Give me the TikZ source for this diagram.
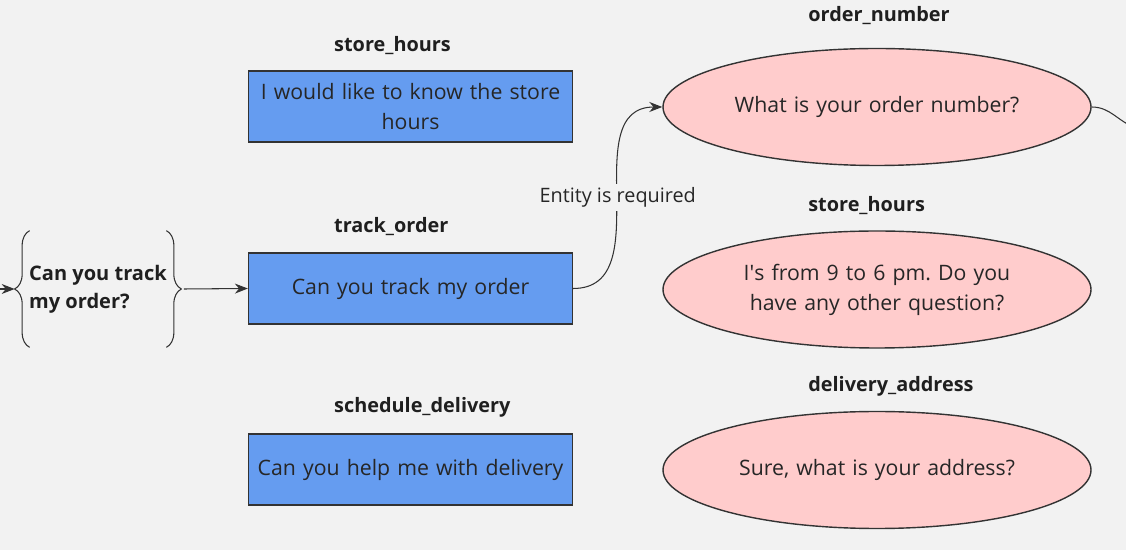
\documentclass[tikz,border=0pt]{standalone}
\usepackage{fontspec}
\setmainfont{Open Sans}
\usetikzlibrary{positioning, arrows.meta, shapes.geometric, decorations.pathreplacing}

\definecolor{bgcol}{HTML}{F2F2F2}
\definecolor{intentblue}{HTML}{659CF0}
\definecolor{replypink}{HTML}{FFCCCC}
\definecolor{inkcol}{HTML}{333333}

\tikzset{
  intent/.style={rectangle, draw=inkcol, fill=intentblue, semithick,
    minimum width=6.42cm, minimum height=1.42cm, text width=6.25cm,
    align=center, font=\fontsize{12.1}{17}\selectfont, text=black!85},
  reply/.style={ellipse, draw=inkcol, fill=replypink, thick,
    minimum width=8.56cm, minimum height=2.34cm, text width=5.8cm,
    align=center, font=\fontsize{12.1}{17}\selectfont, text=black!85},
  tag/.style={anchor=west, inner sep=0pt, font=\fontsize{11.3}{13}\selectfont\bfseries, text=black!88},
  curly/.style={decorate, decoration={brace, amplitude=0.3cm}, inkcol, semithick},
  link/.style={-{Stealth[length=2.6mm, width=2mm]}, inkcol, semithick}
}

\begin{document}
\frenchspacing
\begin{tikzpicture}
  \useasboundingbox[fill=bgcol] (0,0) rectangle (22.52,11);

  % user utterance
  \node[minimum width=3.32cm, minimum height=2.32cm, align=left, inner sep=0pt,
        font=\fontsize{11.4}{16}\selectfont\bfseries, text=black!88] (utter) at (1.96,5.22)
        {Can you track\\my order?};
  \draw[curly] ([xshift=0.3cm]utter.south west) -- ([xshift=0.3cm]utter.north west);
  \draw[curly] ([xshift=-0.3cm]utter.north east) -- ([xshift=-0.3cm]utter.south east);
  \coordinate (entry) at (-0.1,5.22);

  % intents
  \node[intent] (i1) at (8.21,8.87) {I would like to know the store\\hours};
  \node[intent] (i2) at (8.21,5.23) {Can you track my order};
  \node[intent] (i3) at (8.21,1.61) {Can you help me with delivery};
  \node[tag] at ([xshift=1.72cm, yshift=0.5cm]i1.north west) {store\_hours};
  \node[tag] at ([xshift=1.72cm, yshift=0.52cm]i2.north west) {track\_order};
  \node[tag] at ([xshift=1.72cm, yshift=0.52cm]i3.north west) {schedule\_delivery};

  % responses
  \node[reply] (r1) at (17.54,8.86) {What is your order number?};
  \node[reply] (r2) at (17.54,5.21) {I\textquotesingle s from 9 to 6 pm. Do you have any other question?};
  \node[reply] (r3) at (17.54,1.60) {Sure, what is your address?};
  \node[tag] at ([xshift=-1.38cm, yshift=0.64cm]r1.north) {order\_number};
  \node[tag] at ([xshift=-1.38cm, yshift=0.5cm]r2.north) {store\_hours};
  \node[tag] at ([xshift=-1.38cm, yshift=0.48cm]r3.north) {delivery\_address};
  \coordinate (exit) at (22.7,8.45);

  % connectors
  \draw[link] (entry) -- (utter.west);
  \draw[link] ([xshift=0.05cm]utter.east) -- (i2.west);
  \draw[link] (i2.east) to[out=0, in=180, looseness=1.1]
    node[midway, fill=bgcol, inner sep=2pt, font=\fontsize{11.3}{13}\selectfont, text=black!85] {Entity is required} (r1.west);
  \draw[inkcol, semithick] (r1.east) to[out=0, in=160] (exit);
\end{tikzpicture}
\end{document}
